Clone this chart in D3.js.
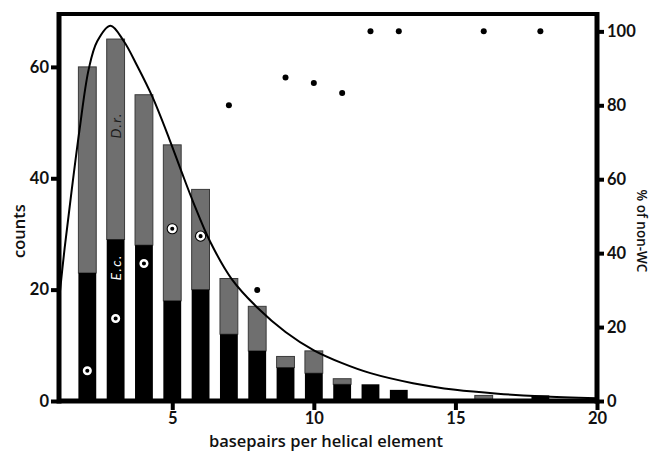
<!DOCTYPE html>
<html>
<head>
    <title>basepairs per helical element</title>
    <script src="https://d3js.org/d3.v7.min.js"></script>
    <style>
        body { margin: 0; background: #fff; }
        text { font-family: Lato, "Open Sans", sans-serif; }
        .tick-label { font-size: 16.5px; font-weight: 700; fill: #111; }
        .axis-title { font-family: "Open Sans", sans-serif; font-size: 16.5px; font-weight: 600; fill: #111; }
    </style>
</head>
<body>
    <div id="chart"></div>
    <script>
        const width = 654, height = 454;

        // bar data (counts)
        const lengths = [2, 3, 4, 5, 6, 7, 8, 9, 10, 11, 12, 13, 16, 18];
        const ecCounts = [23, 29, 28, 18, 20, 12, 9, 6, 5, 3, 3, 2, 0, 1];
        const drCounts = [37, 36, 27, 28, 18, 10, 8, 2, 4, 1, 0, 0, 1, 0];

        // % of non-WC
        const openX = [2, 3, 4, 5, 6];
        const openPct = [8.2, 22.3, 37.2, 46.6, 44.6];
        const dotX = [7, 8, 9, 10, 11, 12, 13, 16, 18];
        const dotPct = [80, 30, 87.5, 86, 83.3, 100, 100, 100, 100];

        // fitted curve
        const curveX = [1.0, 1.2, 1.44, 1.72, 2.05, 2.35, 2.82, 3.29, 3.76, 4.3, 4.9, 5.34, 5.75, 6.34, 7.1, 8.0, 9.0, 10.0, 11.0, 12.0, 13.5, 15.0, 16.5, 18.0, 20.0];
        const curveY = [18, 27.5, 37.5, 48.5, 59.6, 64.6, 67.4, 64.6, 60.2, 54.6, 47, 41, 35.6, 28.6, 21.9, 16.8, 12.4, 9.1, 6.8, 5.0, 3.2, 2.0, 1.3, 0.85, 0.5];

        const xTicks = [5, 10, 15, 20];
        const yTicks = [0, 20, 40, 60];
        const pctTicks = [0, 20, 40, 60, 80, 100];

        const margin = {top: 14, right: 57, bottom: 53, left: 59};
        const x = d3.scaleLinear().domain([1, 20]).range([margin.left, width - margin.right]);
        const y = d3.scaleLinear().domain([0, 69.5]).range([height - margin.bottom, margin.top]);
        const yPct = d3.scaleLinear().domain([0, 104.7]).range([height - margin.bottom, margin.top]);
        const barW = x(1.63) - x(1);

        const svg = d3.select("#chart").append("svg")
            .attr("width", width)
            .attr("height", height);

        const bars = lengths.map((d, i) => ({len: d, ec: ecCounts[i], dr: drCounts[i]}));

        // grey (D.r.) on top of black (E.c.)
        svg.selectAll(".bar-dr")
            .data(bars.filter(d => d.dr > 0))
            .enter().append("rect")
            .attr("x", d => x(d.len) - barW / 2)
            .attr("y", d => y(d.ec + d.dr))
            .attr("width", barW)
            .attr("height", d => y(d.ec) - y(d.ec + d.dr))
            .attr("fill", "#6f6f6f")
            .attr("stroke", "#3a3a3a")
            .attr("stroke-width", 1);

        svg.selectAll(".bar-ec")
            .data(bars.filter(d => d.ec > 0))
            .enter().append("rect")
            .attr("x", d => x(d.len) - barW / 2)
            .attr("y", d => y(d.ec))
            .attr("width", barW)
            .attr("height", d => y(0) - y(d.ec))
            .attr("fill", "#000");

        svg.append("text")
            .attr("transform", "translate(" + (x(3) + 5) + "," + y(49.5) + ") rotate(-90)")
            .attr("text-anchor", "middle")
            .style("font-size", "14px")
            .style("font-style", "italic")
            .style("letter-spacing", "1.5px")
            .attr("fill", "#1a1a1a")
            .text("D.r.");

        svg.append("text")
            .attr("transform", "translate(" + (x(3) + 5) + "," + y(24) + ") rotate(-90)")
            .attr("text-anchor", "middle")
            .style("font-size", "14px")
            .style("font-style", "italic")
            .style("letter-spacing", "1.5px")
            .attr("fill", "#fff")
            .text("E.c.");

        // curve
        const line = d3.line()
            .x(d => x(d[0]))
            .y(d => y(d[1]))
            .curve(d3.curveCatmullRom);
        svg.append("path")
            .datum(curveX.map((d, i) => [d, curveY[i]]))
            .attr("d", line)
            .attr("fill", "none")
            .attr("stroke", "#000")
            .attr("stroke-width", 2);

        // filled dots
        svg.selectAll(".dot")
            .data(dotX.map((d, i) => [d, dotPct[i]]))
            .enter().append("circle")
            .attr("cx", d => x(d[0]))
            .attr("cy", d => yPct(d[1]))
            .attr("r", 3)
            .attr("fill", "#000");

        // open circles
        const open = svg.selectAll(".open")
            .data(openX.map((d, i) => [d, openPct[i]]))
            .enter().append("g")
            .attr("transform", d => "translate(" + x(d[0]) + "," + yPct(d[1]) + ")");
        open.append("circle").attr("r", 5.6).attr("fill", "#000");
        open.append("circle").attr("r", 3.3).attr("fill", "none").attr("stroke", "#fff").attr("stroke-width", 2.5);

        // frame
        const frame = svg.append("g").attr("stroke", "#000").attr("stroke-width", 5);
        frame.append("line").attr("x1", x(1)).attr("x2", x(20)).attr("y1", y(0)).attr("y2", y(0));
        frame.append("line").attr("x1", x(1)).attr("x2", x(1)).attr("y1", margin.top - 2).attr("y2", y(0) + 2.5);
        frame.append("line").attr("x1", x(20)).attr("x2", x(20)).attr("y1", margin.top - 2).attr("y2", y(0) + 2.5);
        frame.append("line").attr("x1", x(1)).attr("x2", x(20)).attr("y1", margin.top).attr("y2", margin.top).attr("stroke-width", 4);

        // bottom axis
        const xAxis = svg.append("g")
            .attr("transform", "translate(0," + y(0) + ")")
            .call(d3.axisBottom(x).tickValues(xTicks).tickSize(9).tickPadding(2));
        xAxis.select(".domain").remove();
        xAxis.selectAll("line").attr("stroke", "#000").attr("stroke-width", 4);
        xAxis.selectAll("text").attr("class", "tick-label").attr("font-family", null).attr("font-size", null);

        // left axis
        const yAxis = svg.append("g")
            .attr("transform", "translate(" + x(1) + ",0)")
            .call(d3.axisLeft(y).tickValues(yTicks).tickSize(8).tickPadding(2));
        yAxis.select(".domain").remove();
        yAxis.selectAll("line").attr("stroke", "#000").attr("stroke-width", 4);
        yAxis.selectAll("text").attr("class", "tick-label").attr("font-family", null).attr("font-size", null);

        // right axis
        const rAxis = svg.append("g")
            .attr("transform", "translate(" + x(20) + ",0)")
            .call(d3.axisRight(yPct).tickValues(pctTicks).tickSize(7).tickPadding(3));
        rAxis.select(".domain").remove();
        rAxis.selectAll("line").attr("stroke", "#000").attr("stroke-width", 4);
        rAxis.selectAll("text").attr("class", "tick-label").attr("font-family", null).attr("font-size", null);

        svg.append("text")
            .attr("class", "axis-title")
            .attr("text-anchor", "middle")
            .attr("x", 326)
            .attr("y", 447)
            .text("basepairs per helical element");

        svg.append("text")
            .attr("class", "axis-title")
            .attr("text-anchor", "middle")
            .attr("transform", "translate(25," + y(30.5) + ") rotate(-90)")
            .text("counts");

        svg.append("text")
            .attr("class", "axis-title")
            .attr("text-anchor", "middle")
            .style("font-size", "13.5px")
            .attr("transform", "translate(637," + yPct(46) + ") rotate(90)")
            .text("% of non-WC");
    </script>
</body>
</html>
